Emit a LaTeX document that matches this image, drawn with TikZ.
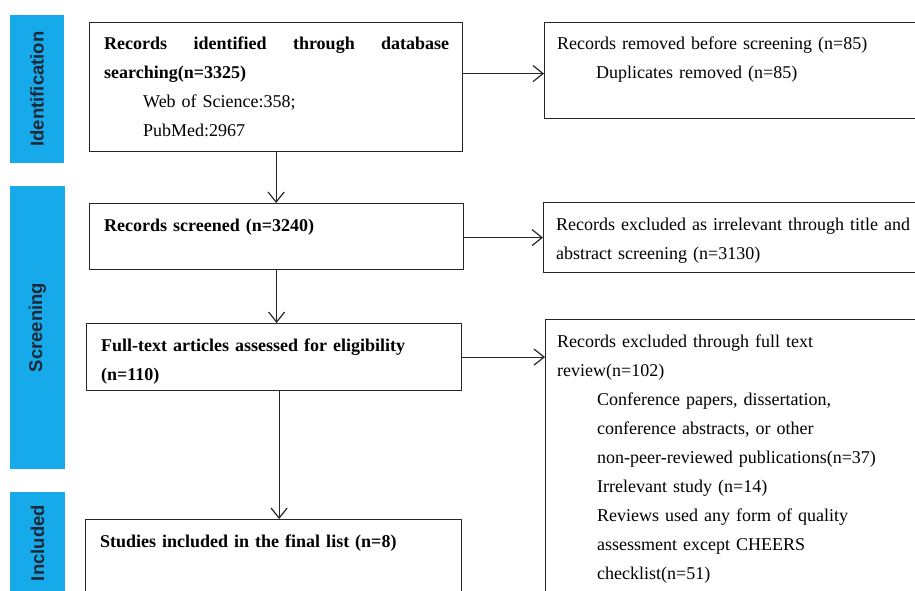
\documentclass[tikz,border=0pt]{standalone}
\usepackage{fontspec}
\setmainfont{Liberation Serif}
\newfontfamily\etiqueta{Liberation Sans}
\usepackage{tikz}
\usetikzlibrary{arrows.meta}

\definecolor{azul}{RGB}{22,170,234}
\definecolor{tinta}{RGB}{27,40,56}

\begin{document}
\begin{tikzpicture}[x=1pt,y=-1pt,
    caja/.style={draw=black!85,line width=1.2pt,anchor=north west,inner sep=0pt},
    texto/.style={anchor=base west,inner sep=0pt,align=left,
      font=\fontsize{18}{29}\selectfont},
    etapa/.style={fill=azul,rotate=90,inner sep=0pt,text=tinta,
      font=\etiqueta\bfseries\fontsize{18.5}{20}\selectfont},
    flecha/.style={line width=1.2pt,black!85,-{Straight Barb[length=10pt,width=16pt,line width=1.2pt]}}]
  \useasboundingbox (0,0) rectangle (915,591);
  \clip (0,0) rectangle (915,591);

  % Etapas a la izquierda
  \node[etapa,minimum width=148,minimum height=54] (e1) at (37,89) {Identification};
  \node[etapa,minimum width=283,minimum height=55] (e2) at (37.5,327.5) {Screening};
  \node[etapa,minimum width=102,minimum height=55] (e3) at (37.5,543) {Included};

  % Columna principal
  \node[caja,minimum width=373,minimum height=129] (ident) at (89,22) {};
  \node[caja,minimum width=374,minimum height=66] (scr) at (89,203) {};
  \node[caja,minimum width=375,minimum height=67] (full) at (86,323) {};
  \node[caja,minimum width=376,minimum height=100] (incl) at (85,519) {};

  \node[texto,text width=345] (t1) at ([shift={(15,28)}]ident.north west)
    {\textbf{Records\hfill identified\hfill through\hfill database}\\
     \textbf{searching(n=3325)}\\
     \hspace*{39pt}Web of Science:358;\\
     \hspace*{39pt}PubMed:2967};
  \node[texto,text width=340] (t2) at ([shift={(15,28)}]scr.north west)
    {\textbf{Records screened (n=3240)}};
  \node[texto,text width=340] (t3) at ([shift={(15,28)}]full.north west)
    {\textbf{Full-text articles assessed for eligibility}\\
     \textbf{(n=110)}};
  \node[texto,text width=340] (t4) at ([shift={(15,28)}]incl.north west)
    {\textbf{Studies included in the final list (n=8)}};

  % Columna de exclusiones
  \node[caja,minimum width=390,minimum height=96] (rem) at (544,22) {};
  \node[caja,minimum width=390,minimum height=70] (exc1) at (543,202) {};
  \node[caja,minimum width=390,minimum height=300] (exc2) at (545,319) {};

  \node[texto,text width=360] (t5) at ([shift={(13,28)}]rem.north west)
    {Records removed before screening (n=85)\\
     \hspace*{39pt}Duplicates removed (n=85)};
  \node[texto,text width=370] (t6) at ([shift={(13,28)}]exc1.north west)
    {Records excluded as irrelevant through title and\\
     abstract screening (n=3130)};
  \node[texto,text width=360] (t7) at ([shift={(12,28)}]exc2.north west)
    {Records excluded through full text\\
     review(n=102)\\
     \hspace*{40pt}Conference papers, dissertation,\\
     \hspace*{40pt}conference abstracts, or other\\
     \hspace*{40pt}non-peer-reviewed publications(n=37)\\
     \hspace*{40pt}Irrelevant study (n=14)\\
     \hspace*{40pt}Reviews used any form of quality\\
     \hspace*{40pt}assessment except CHEERS\\
     \hspace*{40pt}checklist(n=51)};

  % Flechas
  \draw[flecha] (ident.south) -- (ident.south |- scr.north);
  \draw[flecha] (scr.south) -- (scr.south |- full.north);
  \draw[flecha] ([xshift=5]full.south) -- ([xshift=5]full.south |- incl.north);
  \draw[flecha] ([yshift=-3]rem.west -| ident.east) -- ([yshift=-3]rem.west);
  \draw[flecha] (scr.east |- exc1.west) -- (exc1.west);
  \draw[flecha] (full.east) -- (full.east -| exc2.west);
\end{tikzpicture}
\end{document}
